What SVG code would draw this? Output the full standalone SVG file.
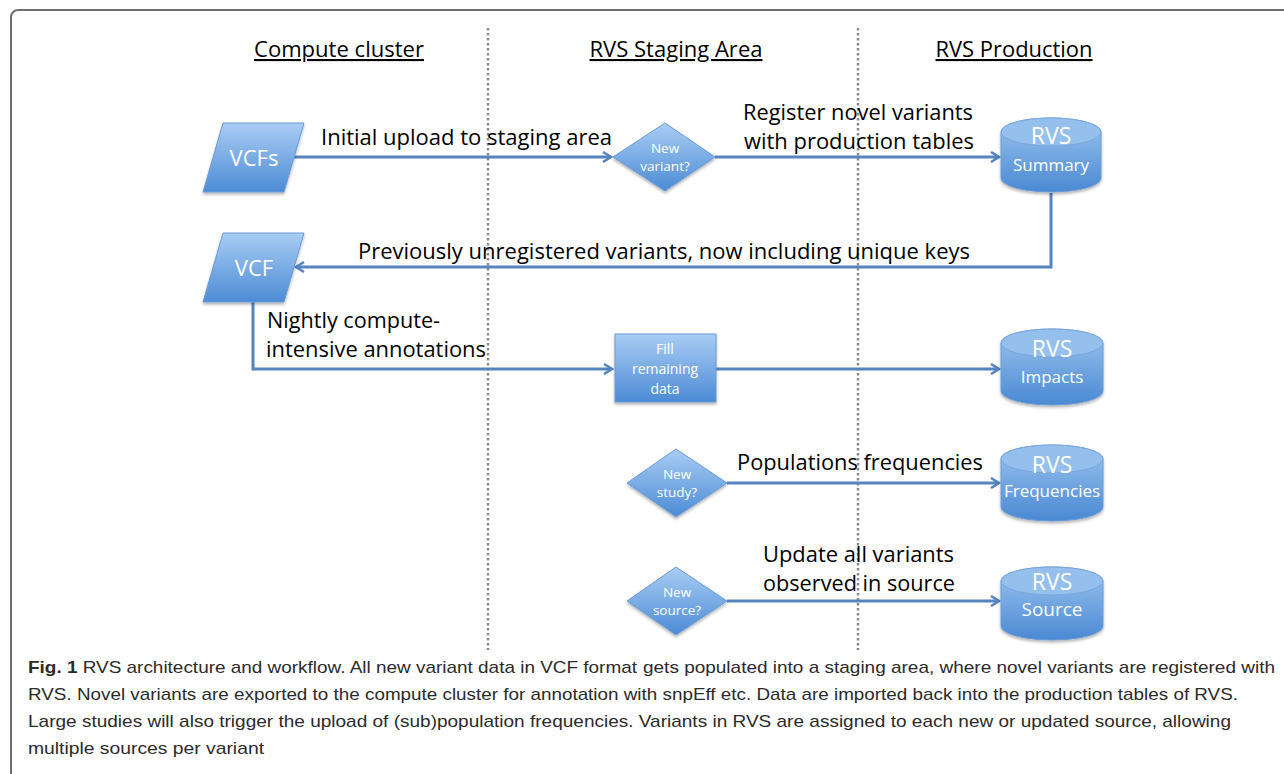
<svg xmlns="http://www.w3.org/2000/svg" width="1284" height="774" viewBox="0 0 1284 774">
<defs>
<linearGradient id="blue" x1="0" y1="0" x2="0" y2="1">
<stop offset="0" stop-color="#a9cdf4"/>
<stop offset="1" stop-color="#4c8bd5"/>
</linearGradient>
<linearGradient id="cyl" x1="0" y1="0" x2="0" y2="1">
<stop offset="0" stop-color="#9cc4ef"/>
<stop offset="1" stop-color="#4a89d3"/>
</linearGradient>
<filter id="sh" x="-20%" y="-20%" width="140%" height="150%">
<feDropShadow dx="0" dy="2" stdDeviation="1.5" flood-color="#000" flood-opacity="0.3"/>
</filter>
<marker id="arr" markerWidth="12" markerHeight="12" refX="10" refY="6" orient="auto" markerUnits="userSpaceOnUse">
<polyline points="2,1 10,6 2,11" fill="none" stroke="#5584c0" stroke-width="2.5" stroke-linejoin="miter"/>
</marker>
</defs>
<style>
.shape{fill:url(#blue);stroke:#6a9bd6;stroke-width:1;filter:url(#sh)}
.cylb{fill:url(#cyl);stroke:#6a9bd6;stroke-width:1;filter:url(#sh)}
.cylt{fill:#95c0ee;stroke:#7aa6da;stroke-width:1}
.conn{fill:none;stroke:#5584c0;stroke-width:3}
.lab{font-family:"Open Sans","Liberation Sans",sans-serif;font-size:22px;fill:#000}
.hdr{font-family:"Open Sans","Liberation Sans",sans-serif;font-size:21px;fill:#000;text-decoration:underline;text-anchor:middle}
.wt{font-family:"Open Sans","Liberation Sans",sans-serif;fill:#fff;text-anchor:middle}
.cap{font-family:"Liberation Sans",Arial,sans-serif;font-size:17px;fill:#2b2b2b}
.div{stroke:#8a8a8a;stroke-width:2.5;stroke-dasharray:2.5,2.5}
</style>
<rect x="11" y="10" width="1320" height="820" rx="7" fill="#fff" stroke="#6e6e6e" stroke-width="2"/>

<g id="headers">
<text class="hdr" x="339" y="57" textLength="170" lengthAdjust="spacingAndGlyphs">Compute cluster</text>
<text class="hdr" x="676" y="57" textLength="173" lengthAdjust="spacingAndGlyphs">RVS Staging Area</text>
<text class="hdr" x="1014" y="57" textLength="157" lengthAdjust="spacingAndGlyphs">RVS Production</text>
</g>

<g id="dividers">
<line class="div" x1="488" y1="28" x2="488" y2="650"/>
<line class="div" x1="858" y1="28" x2="858" y2="650"/>
</g>

<g id="connectors">
<line class="conn" x1="294" y1="157" x2="611" y2="157" marker-end="url(#arr)"/>
<line class="conn" x1="715" y1="157" x2="999" y2="157" marker-end="url(#arr)"/>
<polyline class="conn" points="1051,193 1051,267 296,267" marker-end="url(#arr)"/>
<polyline class="conn" points="253,302 253,369 612,369" marker-end="url(#arr)"/>
<line class="conn" x1="716" y1="369" x2="999" y2="369" marker-end="url(#arr)"/>
<line class="conn" x1="727" y1="483" x2="999" y2="483" marker-end="url(#arr)"/>
<line class="conn" x1="727" y1="601" x2="999" y2="601" marker-end="url(#arr)"/>
<text class="lab" x="321" y="145" textLength="291" lengthAdjust="spacingAndGlyphs">Initial upload to staging area</text>
<text class="lab" x="743" y="120" textLength="230" lengthAdjust="spacingAndGlyphs">Register novel variants</text>
<text class="lab" x="744" y="149" textLength="230" lengthAdjust="spacingAndGlyphs">with production tables</text>
<text class="lab" x="358" y="259" textLength="612" lengthAdjust="spacingAndGlyphs">Previously unregistered variants, now including unique keys</text>
<text class="lab" x="267" y="328" textLength="173" lengthAdjust="spacingAndGlyphs">Nightly compute-</text>
<text class="lab" x="266" y="357" textLength="220" lengthAdjust="spacingAndGlyphs">intensive annotations</text>
<text class="lab" x="737" y="470" textLength="246" lengthAdjust="spacingAndGlyphs">Populations frequencies</text>
<text class="lab" x="763" y="562" textLength="191" lengthAdjust="spacingAndGlyphs">Update all variants</text>
<text class="lab" x="763" y="591" textLength="192" lengthAdjust="spacingAndGlyphs">observed in source</text>
</g>

<g id="vcfs">
<polygon class="shape" points="223,123 304,123 284,192 203,192"/>
<text class="wt" x="254" y="166" font-size="22">VCFs</text>
</g>

<g id="vcf">
<polygon class="shape" points="223,233 304,233 284,302 203,302"/>
<text class="wt" x="254" y="276" font-size="22">VCF</text>
</g>

<g id="new-variant">
<polygon class="shape" points="665,123 715,157 665,191 613,157"/>
<text class="wt" x="665" y="153" font-size="13.5">New</text>
<text class="wt" x="665" y="171" font-size="13.5">variant?</text>
</g>

<g id="fill-remaining">
<rect class="shape" x="615" y="334" width="101" height="68"/>
<text class="wt" x="665" y="354" font-size="14">Fill</text>
<text class="wt" x="665" y="374" font-size="14">remaining</text>
<text class="wt" x="665" y="394" font-size="14">data</text>
</g>

<g id="new-study">
<polygon class="shape" points="676,449 727,483 676,517 627,483"/>
<text class="wt" x="677" y="479" font-size="13.5">New</text>
<text class="wt" x="677" y="497" font-size="13.5">study?</text>
</g>

<g id="new-source">
<polygon class="shape" points="676,567 727,601 676,635 627,601"/>
<text class="wt" x="677" y="597" font-size="13.5">New</text>
<text class="wt" x="677" y="615" font-size="13.5">source?</text>
</g>

<g id="rvs-summary">
<path class="cylb" d="M1001,132 A50,14 0 0 1 1101,132 V178 A50,14 0 0 1 1001,178 Z"/>
<ellipse class="cylt" cx="1051" cy="132" rx="50" ry="14"/>
<text class="wt" x="1051" y="144" font-size="23">RVS</text>
<text class="wt" x="1051" y="171" font-size="17">Summary</text>
</g>

<g id="rvs-impacts">
<path class="cylb" d="M1001,343 A51,14 0 0 1 1103,343 V391 A51,14 0 0 1 1001,391 Z"/>
<ellipse class="cylt" cx="1052" cy="343" rx="51" ry="14"/>
<text class="wt" x="1052" y="357" font-size="23">RVS</text>
<text class="wt" x="1052" y="383" font-size="17">Impacts</text>
</g>

<g id="rvs-frequencies">
<path class="cylb" d="M1001,459 A51,14 0 0 1 1103,459 V507 A51,14 0 0 1 1001,507 Z"/>
<ellipse class="cylt" cx="1052" cy="459" rx="51" ry="14"/>
<text class="wt" x="1052" y="473" font-size="23">RVS</text>
<text class="wt" x="1052" y="497" font-size="17">Frequencies</text>
</g>

<g id="rvs-source">
<path class="cylb" d="M1001,581 A51,14 0 0 1 1103,581 V626 A51,14 0 0 1 1001,626 Z"/>
<ellipse class="cylt" cx="1052" cy="581" rx="51" ry="14"/>
<text class="wt" x="1052" y="590" font-size="23">RVS</text>
<text class="wt" x="1052" y="616" font-size="19">Source</text>
</g>

<g id="caption">
<text class="cap" x="28" y="673" textLength="609" lengthAdjust="spacingAndGlyphs"><tspan font-weight="bold">Fig. 1</tspan> RVS architecture and workflow. All new variant data in VCF format</text>
<text class="cap" x="643" y="673" textLength="632" lengthAdjust="spacingAndGlyphs">gets populated into a staging area, where novel variants are registered with</text>
<text class="cap" x="28" y="700" textLength="1210" lengthAdjust="spacingAndGlyphs">RVS. Novel variants are exported to the compute cluster for annotation with snpEff etc. Data are imported back into the production tables of RVS.</text>
<text class="cap" x="28" y="727" textLength="1203" lengthAdjust="spacingAndGlyphs">Large studies will also trigger the upload of (sub)population frequencies. Variants in RVS are assigned to each new or updated source, allowing</text>
<text class="cap" x="28" y="754" textLength="236" lengthAdjust="spacingAndGlyphs">multiple sources per variant</text>
</g>
</svg>
